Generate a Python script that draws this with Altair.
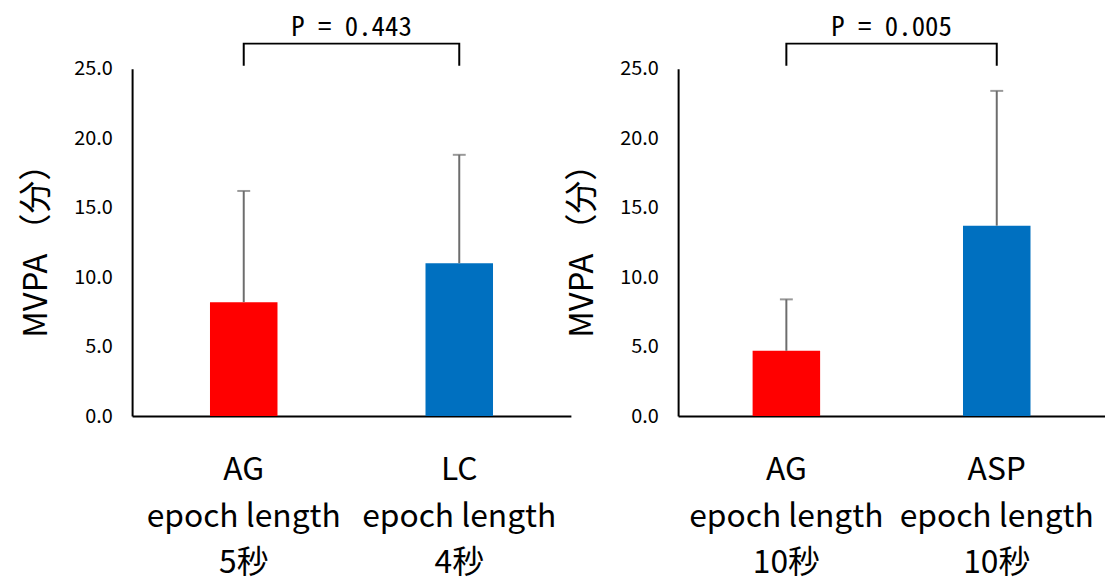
import altair as alt
import pandas as pd

# ---- data ----
left_cats = ["AG|epoch length|5秒", "LC|epoch length|4秒"]
left_means = [8.2, 11.0]
left_upper = [16.2, 18.8]
left_p = "P = 0.443"

right_cats = ["AG|epoch length|10秒", "ASP|epoch length|10秒"]
right_means = [4.7, 13.7]
right_upper = [8.4, 23.4]
right_p = "P = 0.005"

bar_colors = ["#FF0000", "#0070C0"]
y_ticks = [0, 5, 10, 15, 20, 25]
y_title = "MVPA （分）"
bracket_low = 25.2
bracket_high = 26.8

FONT = "Noto Sans CJK JP"
PFONT = "Noto Sans Mono CJK JP, DejaVu Sans Mono, monospace"


def panel(cats, means, upper, ptext, width, pad_inner, pad_outer):
    df = pd.DataFrame({"cat": cats, "mean": means, "upper": upper, "color": bar_colors})
    br = pd.DataFrame({
        "cat": [cats[0], cats[0], cats[1], cats[1]],
        "y": [bracket_low, bracket_high, bracket_high, bracket_low],
        "order": [0, 1, 2, 3],
    })
    xscale = alt.Scale(domain=cats, paddingInner=pad_inner, paddingOuter=pad_outer)
    xaxis = alt.Axis(
        title=None, labelAngle=0, labelExpr="split(datum.label, '|')",
        labelFont=FONT, labelFontSize=32, labelColor="black", labelLineHeight=47,
        labelPadding=39, ticks=False, tickSize=0, domainColor="black", domainWidth=2,
        labelLimit=0, labelOverlap=False,
    )
    yscale = alt.Scale(domain=[0, 25], nice=False, zero=True)
    yaxis = alt.Axis(
        values=y_ticks, format=".1f", title=y_title, grid=False, ticks=False, tickSize=0,
        labelPadding=20, labelFont=FONT, labelFontSize=20, labelColor="black",
        titleFont=FONT, titleFontSize=33, titleFontWeight="normal", titleColor="black",
        titlePadding=20, domainColor="black", domainWidth=2,
    )
    x = alt.X("cat:N", scale=xscale, axis=xaxis)
    bars = alt.Chart(df).mark_bar(size=68).encode(
        x=x,
        y=alt.Y("mean:Q", scale=yscale, axis=yaxis),
        color=alt.Color("color:N", scale=None),
    )
    err = alt.Chart(df).mark_rule(color="#6d6d6d", strokeWidth=2).encode(
        x=alt.X("cat:N"), y=alt.Y("mean:Q"), y2="upper:Q"
    )
    caps = alt.Chart(df).mark_tick(color="#6d6d6d", thickness=2, size=13).encode(
        x=alt.X("cat:N"), y=alt.Y("upper:Q")
    )
    bracket = alt.Chart(br).mark_line(color="black", strokeWidth=2).encode(
        x=alt.X("cat:N"), y=alt.Y("y:Q"), order="order:Q"
    )
    return alt.layer(bars, err, caps, bracket).properties(
        width=width, height=350,
        title=alt.TitleParams(ptext, font=PFONT, fontSize=27, fontWeight="normal",
                              color="black", anchor="middle", offset=-2),
    )


left = panel(left_cats, left_means, left_upper, left_p, 442, 0.688, 0.362)
right = panel(right_cats, right_means, right_upper, right_p, 430, 0.679, 0.354)

chart = alt.hconcat(left, right, spacing=108, bounds="flush").properties(
    padding={"left": 13, "top": 3, "right": 0, "bottom": 0}
).configure_view(stroke=None)

chart.save("out.html", embed_options={"renderer": "svg", "actions": False})
